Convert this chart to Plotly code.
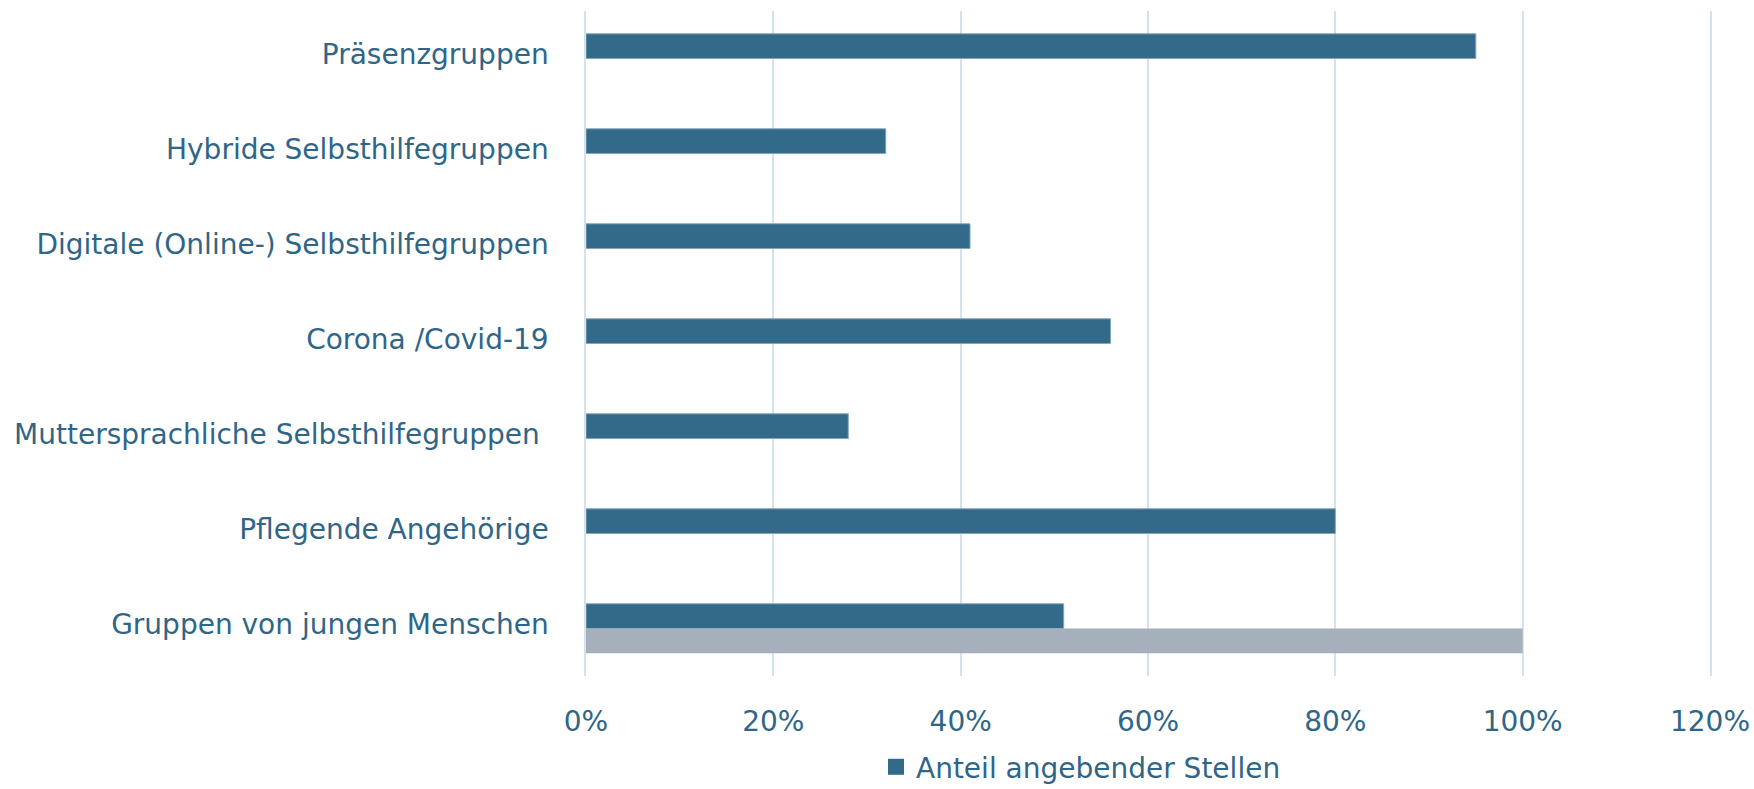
import plotly.graph_objects as go

categories = [
    "Präsenzgruppen",
    "Hybride Selbsthilfegruppen",
    "Digitale (Online-) Selbsthilfegruppen",
    "Corona /Covid-19",
    "Muttersprachliche Selbsthilfegruppen\u00a0",
    "Pflegende Angehörige",
    "Gruppen von jungen Menschen",
]
anteil = [0.95, 0.32, 0.41, 0.56, 0.28, 0.80, 0.51]
referenz = [None, None, None, None, None, None, 1.00]
x_tick_values = [0, 0.2, 0.4, 0.6, 0.8, 1.0, 1.2]
x_tick_labels = ["0%", "20%", "40%", "60%", "80%", "100%", "120%"]
legend_name = "Anteil angebender Stellen"

DARK = "#336a89"
GREY = "#a5b0bc"
TEXT = "#2f6688"
GRID = "#d2e3ee"
FONT = "DejaVu Sans"

fig = go.Figure()
fig.add_trace(go.Bar(
    y=categories, x=anteil, orientation="h", name=legend_name,
    marker=dict(color=DARK, line=dict(color="#86a6ba", width=1)),
    showlegend=False,
))
fig.add_trace(go.Bar(
    y=categories, x=referenz, orientation="h", name="Referenz",
    marker=dict(color=GREY, line=dict(width=0)),
    showlegend=False,
))
fig.add_trace(go.Scatter(
    x=[None], y=[None], mode="markers", name=legend_name,
    marker=dict(symbol="square", size=16, color=DARK),
    showlegend=True,
))

fig.update_layout(
    width=1754, height=789,
    margin=dict(l=586, r=44, t=11, b=113, autoexpand=False),
    paper_bgcolor="white", plot_bgcolor="white",
    barmode="group", bargap=0.48, bargroupgap=0,
    font=dict(family=FONT, size=28, color=TEXT),
    legend=dict(
        orientation="h", x=0.258, xanchor="left", y=-0.137, yanchor="middle",
        font=dict(family=FONT, size=28, color=TEXT),
        itemsizing="trace",
    ),
)
fig.update_xaxes(
    range=[0, 1.2], tickvals=x_tick_values, ticktext=x_tick_labels,
    showgrid=True, gridcolor=GRID, gridwidth=1.5,
    zeroline=False, showline=False, ticks="",
    ticklabelstandoff=26, automargin=False,
    tickfont=dict(family=FONT, size=28, color=TEXT),
    fixedrange=True,
)
fig.update_yaxes(
    autorange="reversed", type="category",
    showgrid=False, zeroline=False,
    showline=True, linecolor=GRID, linewidth=1.5, mirror=True,
    ticks="",
    ticklabelstandoff=30, ticklabelshift=4, automargin=False,
    tickfont=dict(family=FONT, size=28, color=TEXT),
    fixedrange=True,
)

fig.write_html(
    "out.html",
    config={"displayModeBar": False},
    post_script="document.body.style.margin='0px';",
)
